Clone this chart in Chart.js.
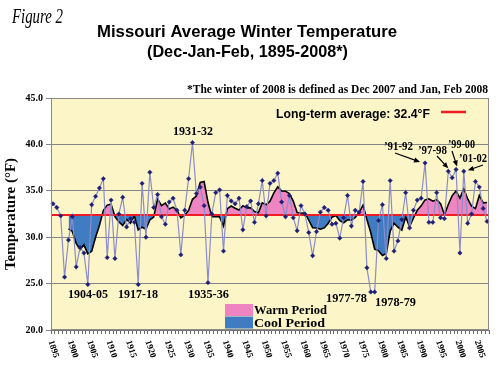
<!DOCTYPE html>
<html>
<head>
<meta charset="utf-8">
<script src="https://cdn.jsdelivr.net/npm/chart.js@4.4.1/dist/chart.umd.min.js"></script>
<style>
  html, body { margin: 0; padding: 0; background: #fff; }
  #wrap { position: relative; width: 500px; height: 376px; }
</style>
</head>
<body>
<div id="wrap"><canvas id="chartBase" width="500" height="376"></canvas></div>
<script>
// winters, labelled by the December year (1895 = Dec 1895 - Feb 1896)
const years = [1895,1896,1897,1898,1899,1900,1901,1902,1903,1904,1905,1906,1907,1908,1909,1910,1911,1912,1913,1914,
  1915,1916,1917,1918,1919,1920,1921,1922,1923,1924,1925,1926,1927,1928,1929,1930,1931,1932,1933,1934,
  1935,1936,1937,1938,1939,1940,1941,1942,1943,1944,1945,1946,1947,1948,1949,1950,1951,1952,1953,1954,
  1955,1956,1957,1958,1959,1960,1961,1962,1963,1964,1965,1966,1967,1968,1969,1970,1971,1972,1973,1974,
  1975,1976,1977,1978,1979,1980,1981,1982,1983,1984,1985,1986,1987,1988,1989,1990,1991,1992,1993,1994,
  1995,1996,1997,1998,1999,2000,2001,2002,2003,2004,2005,2006,2007];

// average winter temperature (°F)
const temps = [33.6,33.2,32.3,25.7,29.7,32.2,26.8,28.9,28.3,24.9,33.5,34.4,35.3,36.3,27.8,34.0,27.7,32.5,34.3,31.1,
  32.0,31.6,24.9,35.8,30.0,37.0,33.2,34.6,32.2,31.4,33.8,34.2,32.9,28.1,32.9,36.3,40.2,34.7,35.4,33.4,
  25.1,32.5,34.8,35.1,28.5,34.5,33.9,33.6,34.2,30.8,33.3,33.9,31.6,33.6,36.1,32.3,35.8,36.1,36.9,33.8,
  32.2,34.5,32.1,30.7,33.4,32.5,30.5,28.0,30.6,32.7,33.2,32.9,31.4,31.5,29.9,32.1,34.5,31.2,32.9,32.7,
  36.0,26.7,24.1,24.1,31.8,33.5,27.7,36.1,28.5,29.6,31.9,34.8,31.0,32.9,34.0,34.2,38.0,31.6,31.6,34.8,
  32.1,32.0,37.1,36.4,37.3,28.3,37.1,31.5,32.5,36.0,35.4,33.1,31.7];

// 5-winter running mean (black curve)
const avg5 = [null,null,null,null,
  30.90,30.62,29.34,28.66,29.18,28.22,28.48,30.00,31.28,32.88,
  33.46,33.56,32.22,31.66,31.26,31.92,31.52,32.30,30.78,31.08,
  30.86,31.86,32.18,34.12,33.40,33.68,33.04,33.24,32.90,32.08,
  32.38,32.88,34.08,34.44,35.90,36.00,33.76,32.22,32.24,32.18,
  31.20,33.08,33.36,33.12,32.94,33.40,33.16,33.16,32.76,32.64,
  33.70,33.50,33.88,34.78,35.44,34.98,34.96,34.70,33.90,32.66,
  32.58,32.64,31.84,31.02,31.00,30.86,31.00,31.48,32.16,32.34,
  31.78,31.56,31.88,31.84,32.12,32.68,33.46,31.90,30.48,28.72,
  28.54,28.04,28.24,30.64,31.52,31.08,30.76,32.18,31.16,32.04,
  32.92,33.38,34.02,34.14,33.88,34.04,33.62,32.42,33.52,34.48,
  34.98,34.22,35.24,34.12,33.34,33.08,34.50,33.70,33.74];

const longTermAvg = 32.4;
const yMin = 20, yMax = 45, yStep = 5;
const xLabelYears = [1895,1900,1905,1910,1915,1920,1925,1930,1935,1940,1945,1950,1955,1960,1965,1970,1975,1980,1985,1990,1995,2000,2005];

const SERIF = "'Liberation Serif', 'Times New Roman', serif";
const SANS = "'Liberation Sans', Arial, sans-serif";
const WARM = "#ee84c0";
const COOL = "#3f7cc2";

// texte sur une largeur donnee
function fitText(ctx, text, left, base, font, width) {
  ctx.save();
  ctx.font = font;
  ctx.textAlign = "left";
  ctx.textBaseline = "alphabetic";
  const w = ctx.measureText(text).width;
  const sx = width ? width / w : 1;
  ctx.translate(left, base);
  ctx.scale(sx, 1);
  ctx.fillStyle = "#000";
  ctx.fillText(text, 0, 0);
  ctx.restore();
}

function arrow(ctx, x1, y1, x2, y2) {
  const ang = Math.atan2(y2 - y1, x2 - x1);
  ctx.save();
  ctx.strokeStyle = "#000";
  ctx.fillStyle = "#000";
  ctx.lineWidth = 1.2;
  ctx.beginPath();
  ctx.moveTo(x1, y1);
  ctx.lineTo(x2 - 4 * Math.cos(ang), y2 - 4 * Math.sin(ang));
  ctx.stroke();
  ctx.beginPath();
  ctx.moveTo(x2, y2);
  ctx.lineTo(x2 - 6 * Math.cos(ang) + 2.6 * Math.sin(ang), y2 - 6 * Math.sin(ang) - 2.6 * Math.cos(ang));
  ctx.lineTo(x2 - 6 * Math.cos(ang) - 2.6 * Math.sin(ang), y2 - 6 * Math.sin(ang) + 2.6 * Math.cos(ang));
  ctx.closePath();
  ctx.fill();
  ctx.restore();
}

function pointPx(chart, yr) {
  const i = years.indexOf(yr);
  return { x: chart.scales.x.getPixelForValue(i), y: chart.scales.y.getPixelForValue(temps[i]) };
}

const decor = {
  id: "decor",
  beforeDraw(chart) {
    const { ctx, chartArea: a } = chart;
    ctx.save();
    ctx.fillStyle = "#fbf5c8";
    ctx.fillRect(a.left, a.top, a.right - a.left, a.bottom - a.top);
    ctx.restore();
  },
  afterDatasetDraw(chart, args) {
    if (args.index !== 1) return;
    const { ctx, chartArea: a } = chart;
    const y = chart.scales.y.getPixelForValue(longTermAvg);
    ctx.save();
    ctx.strokeStyle = "#ee1c25";
    ctx.lineWidth = 2;
    ctx.beginPath();
    ctx.moveTo(a.left, y);
    ctx.lineTo(a.right, y);
    ctx.stroke();
    ctx.restore();
  },
  afterDraw(chart) {
    const { ctx, chartArea: a } = chart;
    const xs = chart.scales.x;

    // cadre
    ctx.save();
    ctx.strokeStyle = "#8a8a8a";
    ctx.lineWidth = 1;
    ctx.strokeRect(a.left + 0.5, a.top + 0.5, a.right - a.left - 1, a.bottom - a.top - 1);
    ctx.restore();

    // titres
    fitText(ctx, "Figure 2", 12, 23, "italic 20px " + SERIF, 51);
    fitText(ctx, "Missouri Average Winter Temperature", 97, 37, "bold 17px " + SANS, 300);
    fitText(ctx, "(Dec-Jan-Feb, 1895-2008*)", 147, 57, "bold 17px " + SANS, 201);
    fitText(ctx, "*The winter of 2008 is defined as Dec 2007 and Jan, Feb 2008", 187, 93, "bold 12px " + SERIF, 301);

    // legende
    fitText(ctx, "Long-term average: 32.4°F", 276, 118, "bold 12px " + SANS, 154);
    ctx.save();
    ctx.strokeStyle = "#ee1c25";
    ctx.lineWidth = 2.5;
    ctx.beginPath();
    ctx.moveTo(441, 112);
    ctx.lineTo(466, 112);
    ctx.stroke();
    ctx.fillStyle = WARM;
    ctx.fillRect(225, 304, 28, 12);
    ctx.fillStyle = COOL;
    ctx.fillRect(225, 316.5, 28, 12);
    ctx.restore();
    fitText(ctx, "Warm Period", 254, 314, "bold 13px " + SERIF, 73);
    fitText(ctx, "Cool Period", 254, 326.5, "bold 13px " + SERIF, 71);

    // annees marquantes
    const f = "bold 12px " + SERIF;
    fitText(ctx, "1904-05", 68, 298, f, 40);
    fitText(ctx, "1917-18", 118, 298, f, 40);
    fitText(ctx, "1931-32", 173, 135, f, 40);
    fitText(ctx, "1935-36", 188, 298, f, 41);
    fitText(ctx, "1977-78", 326, 302, f, 41);
    fitText(ctx, "1978-79", 375, 306, f, 41);
    fitText(ctx, "\u201991-92", 384, 150, f, 29);
    fitText(ctx, "\u201997-98", 418, 154, f, 29);
    fitText(ctx, "\u201999-00", 448, 148, f, 27);
    fitText(ctx, "\u201901-02", 459, 162, f, 28);

    let p = pointPx(chart, 1991);
    arrow(ctx, 395, 153, p.x - 5, p.y - 1);
    p = pointPx(chart, 1997);
    arrow(ctx, 437, 156, p.x, p.y - 3);
    p = pointPx(chart, 1999);
    arrow(ctx, 452, 151, p.x + 1, p.y - 3);
    p = pointPx(chart, 2001);
    arrow(ctx, 483, 165, p.x + 4, p.y - 1);

    // etiquettes de l'axe x, tournees
    ctx.save();
    ctx.font = "bold 9px " + SERIF;
    ctx.fillStyle = "#000";
    ctx.textAlign = "center";
    ctx.textBaseline = "middle";
    for (let k = 0; k < xLabelYears.length; k++) {
      const x = xs.getPixelForValue(years.indexOf(xLabelYears[k]));
      ctx.save();
      ctx.translate(x + 0.5, 349);
      ctx.rotate(72 * Math.PI / 180);
      ctx.fillText(String(xLabelYears[k]), 0, 0);
      ctx.restore();
    }
    ctx.restore();
  }
};

const canvas = document.getElementById("chartBase");
new Chart(canvas.getContext("2d"), {
  type: "line",
  data: {
    labels: years.map(String),
    datasets: [
      {
        label: "Winter average",
        data: temps,
        borderColor: "#8c8cca",
        borderWidth: 1.2,
        pointStyle: "rectRot",
        pointRadius: 2.2,
        pointBackgroundColor: "#1e1e78",
        pointBorderColor: "#1e1e78",
        pointBorderWidth: 0.5,
        tension: 0,
        fill: false
      },
      {
        label: "5-year mean",
        data: avg5,
        borderColor: "#000",
        borderWidth: 1.6,
        pointRadius: 0,
        tension: 0,
        fill: { target: { value: longTermAvg }, above: WARM, below: COOL }
      }
    ]
  },
  options: {
    responsive: false,
    animation: false,
    layout: { padding: { top: 98, right: 11, left: 0, bottom: 0 } },
    plugins: {
      legend: { display: false },
      tooltip: { enabled: false },
      title: { display: false }
    },
    scales: {
      x: {
        type: "category",
        offset: true,
        grid: { display: true, offset: true, drawOnChartArea: false, drawTicks: true, tickLength: 4, color: "#666" },
        border: { color: "#777" },
        ticks: { display: false, autoSkip: false },
        afterFit: function (s) { s.height = 46; }
      },
      y: {
        min: yMin,
        max: yMax,
        ticks: {
          stepSize: yStep,
          color: "#000",
          padding: 3,
          font: { family: SERIF, size: 10, weight: "bold" },
          callback: function (v) { return Number(v).toFixed(1); }
        },
        grid: { color: "#858585", tickLength: 5, lineWidth: 1 },
        border: { color: "#777" },
        title: {
          display: true,
          text: "Temperature (°F)",
          color: "#000",
          font: { family: SERIF, size: 15, weight: "bold" },
          padding: { top: 2, bottom: 0 }
        },
        afterFit: function (s) { s.width = 51; }
      }
    }
  },
  plugins: [decor]
});
</script>
</body>
</html>
